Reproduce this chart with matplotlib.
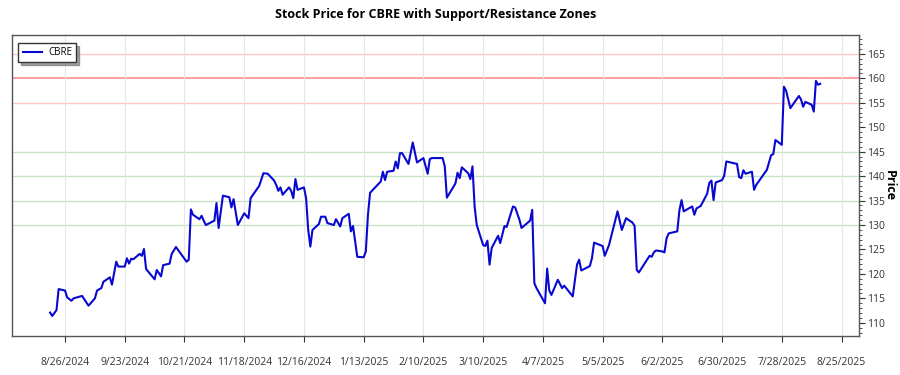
import matplotlib
matplotlib.use('Agg')
import matplotlib.pyplot as plt
import pandas as pd

plt.rcParams['font.family'] = ['Open Sans', 'DejaVu Sans']

ticker = 'CBRE'
dates = [
    '2024-08-19', '2024-08-20', '2024-08-22', '2024-08-23', '2024-08-26', '2024-08-27', '2024-08-29', '2024-08-30',
    '2024-09-03', '2024-09-06', '2024-09-09', '2024-09-10', '2024-09-12', '2024-09-13', '2024-09-16', '2024-09-17',
    '2024-09-19', '2024-09-20', '2024-09-23', '2024-09-24', '2024-09-25', '2024-09-26', '2024-09-27', '2024-09-30',
    '2024-10-01', '2024-10-02', '2024-10-03', '2024-10-07', '2024-10-08', '2024-10-10', '2024-10-11', '2024-10-14',
    '2024-10-15', '2024-10-17', '2024-10-22', '2024-10-23', '2024-10-24', '2024-10-25', '2024-10-28', '2024-10-29',
    '2024-10-30', '2024-10-31', '2024-11-04', '2024-11-05', '2024-11-06', '2024-11-08', '2024-11-11', '2024-11-12',
    '2024-11-13', '2024-11-15', '2024-11-18', '2024-11-20', '2024-11-21', '2024-11-25', '2024-11-27', '2024-11-29',
    '2024-12-02', '2024-12-03', '2024-12-04', '2024-12-05', '2024-12-06', '2024-12-09', '2024-12-10', '2024-12-11',
    '2024-12-12', '2024-12-13', '2024-12-16', '2024-12-17', '2024-12-18', '2024-12-19', '2024-12-20', '2024-12-23',
    '2024-12-24', '2024-12-26', '2024-12-27', '2024-12-30', '2024-12-31', '2025-01-02', '2025-01-03', '2025-01-06',
    '2025-01-07', '2025-01-08', '2025-01-10', '2025-01-13', '2025-01-14', '2025-01-15', '2025-01-16', '2025-01-21',
    '2025-01-22', '2025-01-23', '2025-01-24', '2025-01-27', '2025-01-28', '2025-01-29', '2025-01-30', '2025-01-31',
    '2025-02-03', '2025-02-05', '2025-02-07', '2025-02-10', '2025-02-12', '2025-02-13', '2025-02-14', '2025-02-19',
    '2025-02-20', '2025-02-21', '2025-02-25', '2025-02-26', '2025-02-27', '2025-02-28', '2025-03-03', '2025-03-04',
    '2025-03-05', '2025-03-06', '2025-03-07', '2025-03-10', '2025-03-11', '2025-03-12', '2025-03-13', '2025-03-14',
    '2025-03-17', '2025-03-18', '2025-03-20', '2025-03-21', '2025-03-24', '2025-03-25', '2025-03-27', '2025-03-28',
    '2025-04-01', '2025-04-02', '2025-04-03', '2025-04-04', '2025-04-08', '2025-04-09', '2025-04-10', '2025-04-11',
    '2025-04-14', '2025-04-16', '2025-04-17', '2025-04-21', '2025-04-23', '2025-04-24', '2025-04-25', '2025-04-29',
    '2025-04-30', '2025-05-01', '2025-05-05', '2025-05-06', '2025-05-08', '2025-05-12', '2025-05-14', '2025-05-16',
    '2025-05-19', '2025-05-20', '2025-05-21', '2025-05-22', '2025-05-27', '2025-05-28', '2025-05-29', '2025-05-30',
    '2025-06-02', '2025-06-03', '2025-06-04', '2025-06-05', '2025-06-09', '2025-06-10', '2025-06-11', '2025-06-12',
    '2025-06-16', '2025-06-17', '2025-06-18', '2025-06-20', '2025-06-23', '2025-06-24', '2025-06-25', '2025-06-26',
    '2025-06-27', '2025-06-30', '2025-07-01', '2025-07-02', '2025-07-07', '2025-07-08', '2025-07-09', '2025-07-10',
    '2025-07-11', '2025-07-14', '2025-07-15', '2025-07-16', '2025-07-21', '2025-07-23', '2025-07-24', '2025-07-25',
    '2025-07-28', '2025-07-29', '2025-07-30', '2025-08-01', '2025-08-05', '2025-08-06', '2025-08-07', '2025-08-08',
    '2025-08-11', '2025-08-12', '2025-08-13', '2025-08-14', '2025-08-15',
]
close = [
    112.1, 111.4, 112.6, 116.9, 116.6, 115.2, 114.5, 115.0,
    115.5, 113.5, 115.0, 116.6, 117.1, 118.4, 119.3, 117.8,
    122.5, 121.5, 121.5, 123.2, 122.1, 123.1, 123.0, 124.1,
    123.7, 125.1, 121.0, 118.9, 120.8, 119.5, 121.8, 122.1,
    124.1, 125.5, 122.5, 122.9, 133.2, 132.1, 131.2, 131.9,
    130.9, 130.0, 130.9, 134.5, 129.4, 136.0, 135.7, 133.6,
    135.3, 130.0, 132.4, 131.4, 135.5, 138.0, 140.6, 140.5,
    139.1, 138.2, 137.0, 137.7, 136.2, 137.7, 137.0, 135.5,
    139.4, 137.2, 137.7, 135.5, 129.0, 125.6, 129.0, 130.2,
    131.7, 131.7, 130.4, 130.0, 131.2, 129.7, 131.4, 132.3,
    128.7, 129.8, 123.5, 123.4, 124.6, 132.1, 136.6, 138.9,
    140.9, 139.2, 140.9, 141.1, 143.0, 141.6, 144.7, 144.7,
    142.5, 146.9, 142.8, 143.7, 140.5, 143.5, 143.7, 143.7,
    142.0, 135.6, 138.5, 140.7, 139.6, 141.8, 140.6, 139.4,
    142.0, 133.8, 130.0, 125.9, 125.7, 126.8, 121.9, 125.3,
    127.8, 126.3, 129.8, 129.6, 133.8, 133.6, 131.1, 129.4,
    130.9, 133.1, 118.1, 117.1, 114.0, 121.1, 116.6, 115.7,
    118.8, 117.1, 117.6, 115.4, 121.9, 122.9, 120.7, 121.6,
    123.2, 126.4, 125.7, 123.7, 125.9, 132.8, 129.0, 131.4,
    130.5, 129.8, 120.8, 120.3, 123.7, 123.5, 124.4, 124.8,
    124.6, 124.4, 127.3, 128.3, 128.7, 133.0, 135.1, 132.8,
    133.8, 132.1, 133.4, 133.9, 136.4, 138.6, 139.1, 135.1,
    138.7, 139.2, 140.1, 143.0, 142.5, 139.8, 139.6, 141.2,
    140.5, 140.9, 137.2, 138.2, 141.3, 144.3, 144.5, 147.4,
    146.4, 158.3, 157.5, 153.9, 156.4, 155.7, 154.2, 155.2,
    154.6, 153.2, 159.5, 158.7, 158.9,
]
resistance = [155, 160, 165]
support = [130, 135, 140, 145]

x = pd.to_datetime(dates)

fig = plt.figure(figsize=(9, 3.75), dpi=100)
ax = fig.add_axes([0.013, 0.104, 0.941, 0.803])

for r in resistance:
    if r == 160:
        ax.axhline(r, color='red', alpha=0.45, lw=1.2, zorder=1)
    else:
        ax.axhline(r, color='red', alpha=0.22, lw=1.0, zorder=1)
for s in support:
    ax.axhline(s, color='green', alpha=0.22, lw=1.0, zorder=1)

ax.plot(x, close, color='#0808d0', lw=1.5, label=ticker, zorder=3)

ax.set_xlim(pd.Timestamp('2024-08-01'), pd.Timestamp('2025-09-02'))
ax.set_ylim(107.3, 168.9)

ticks = pd.date_range('2024-08-26', periods=14, freq='28D')
ax.set_xticks(ticks)
ax.set_xticklabels([f'{t.month}/{t.day}/{t.year}' for t in ticks])
ax.xaxis.grid(True, color='#e6e6e6', lw=0.8)
ax.yaxis.grid(False)

ax.yaxis.tick_right()
ax.yaxis.set_label_position('right')
ax.set_yticks(range(110, 166, 5))
ax.yaxis.set_minor_locator(matplotlib.ticker.MultipleLocator(1))
ax.tick_params(axis='y', which='major', length=4, labelsize=7.5, colors='#333333', pad=2)
ax.tick_params(axis='y', which='minor', length=2, color='#333333')
ax.tick_params(axis='x', length=4, labelsize=7.5, colors='#333333', pad=11)
ax.set_ylabel('Price', fontsize=9, fontweight='bold', rotation=270, labelpad=8)

for sp in ax.spines.values():
    sp.set_color('#555555')
    sp.set_linewidth(1.0)

ax.set_title('Stock Price for CBRE with Support/Resistance Zones', fontsize=9, fontweight='bold', pad=12)

leg = ax.legend(loc='upper left', fontsize=7, fancybox=False, edgecolor='#333333',
                shadow={'color': '#666666', 'alpha': 0.6},
                borderpad=0.45, handlelength=2.0, handletextpad=0.6, bbox_to_anchor=(0.002, 0.99))
leg.get_frame().set_linewidth(1.0)

fig.savefig('out.png', dpi=100)
